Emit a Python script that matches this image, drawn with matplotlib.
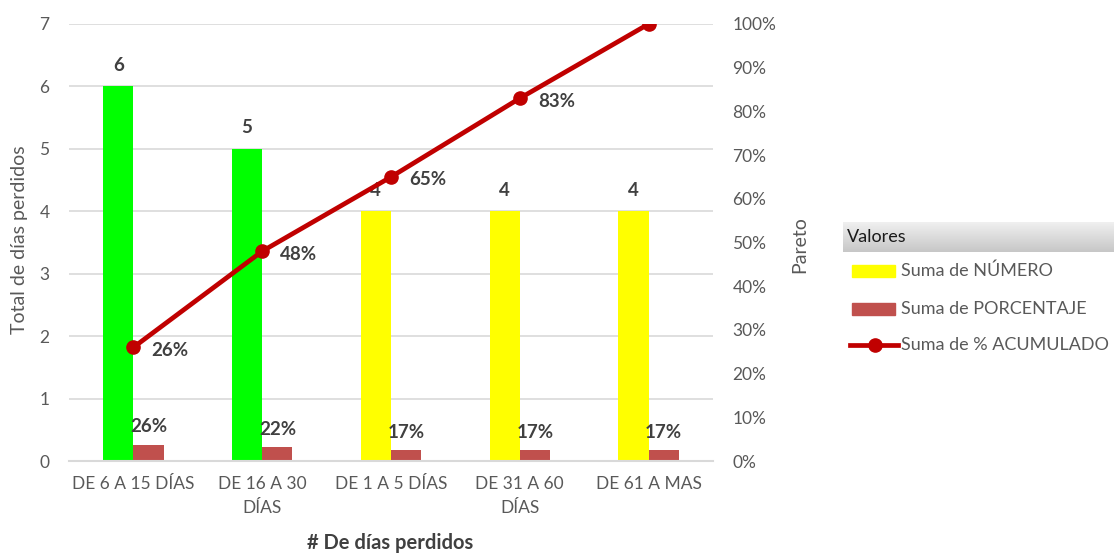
import numpy as np
import matplotlib.pyplot as plt

# Pareto data: days lost grouped by range
categorias = ["DE 6 A 15 DÍAS", "DE 16 A 30\nDÍAS", "DE 1 A 5 DÍAS", "DE 31 A 60\nDÍAS", "DE 61 A MAS"]
numero = [6, 5, 4, 4, 4]
porcentaje = [0.26, 0.22, 0.17, 0.17, 0.17]
acumulado = [0.26, 0.48, 0.65, 0.83, 1.00]
colores_numero = ["#00FF00", "#00FF00", "#FFFF00", "#FFFF00", "#FFFF00"]

plt.rcParams["font.family"] = ["Lato", "DejaVu Sans"]
gris = "#595959"
oscuro = "#404040"

W, H = 1114, 554
fig = plt.figure(figsize=(W / 100, H / 100), dpi=100)
ax = fig.add_axes([69 / W, (H - 461) / H, 644 / W, 437 / H])

x = np.arange(len(categorias))
ancho = 0.235

b1 = ax.bar(x - ancho / 2, numero, ancho, color=colores_numero, zorder=2)
b2 = ax.bar(x + ancho / 2, porcentaje, ancho, color="#C0504D", zorder=2)

ax.set_xlim(-0.5, len(categorias) - 0.5)
ax.set_ylim(0, 7)
ax.set_yticks(range(0, 8))
ax.yaxis.grid(True, color="#D9D9D9", lw=1.2, zorder=0)
ax.set_axisbelow(True)
for s in ["top", "right", "left"]:
    ax.spines[s].set_visible(False)
ax.spines["bottom"].set_color("#D9D9D9")
ax.spines["bottom"].set_linewidth(1.5)
ax.set_xticks(x)
ax.set_xticklabels(categorias, fontsize=12.5, color=gris, linespacing=1.6)
ax.tick_params(axis="x", length=0, pad=11)
ax.tick_params(axis="y", length=0, pad=14, labelsize=12.5, labelcolor=gris)

for xi, v in zip(x, numero):
    ax.annotate(str(v), (xi - ancho / 2, v), xytext=(0, 9), textcoords="offset points",
                ha="center", va="bottom", fontsize=13.5, fontweight="bold", color=oscuro)
for xi, v in zip(x, porcentaje):
    ax.annotate(f"{v:.0%}", (xi + ancho / 2, v), xytext=(0, 7), textcoords="offset points",
                ha="center", va="bottom", fontsize=13.5, fontweight="bold", color=oscuro)

# Cumulative percentage on secondary axis
ax2 = ax.twinx()
ax2.set_ylim(0, 1)
ax2.set_yticks(np.arange(0, 1.01, 0.1))
ax2.set_yticklabels([f"{int(round(t * 100))}%" for t in np.arange(0, 1.01, 0.1)])
ax2.tick_params(axis="y", length=0, pad=14, labelsize=12.5, labelcolor=gris)
for s in ax2.spines.values():
    s.set_visible(False)
ax2.plot(x, acumulado, color="#C00000", lw=3.4, marker="o", ms=9.5, zorder=3)
for xi, v in zip(x, acumulado[:-1]):
    ax2.annotate(f"{v:.0%}", (xi, v), xytext=(13, -2), textcoords="offset points",
                 ha="left", va="center", fontsize=13.5, fontweight="bold", color=oscuro)

fig.text(20 / W, 1 - 240 / H, "Total de días perdidos", rotation=90, ha="center", va="center",
         fontsize=14, color=gris)
fig.text(800 / W, 1 - 245 / H, "Pareto", rotation=90, ha="center", va="center",
         fontsize=14, color=gris)
fig.text(390 / W, 1 - 543 / H, "# De días perdidos", ha="center", va="center",
         fontsize=14.5, fontweight="bold", color=oscuro)

# Legend panel
header = fig.add_axes([843 / W, 1 - 252 / H, (W - 843) / W, 30 / H])
grad = np.linspace(0.94, 0.78, 50).reshape(-1, 1)
header.imshow(np.dstack([grad, grad, grad]), aspect="auto", extent=(0, 1, 0, 1))
header.axis("off")
header.text(0.015, 0.5, "Valores", ha="left", va="center", fontsize=13, color="#1a1a1a",
            transform=header.transAxes)

leg = fig.add_axes([843 / W, 1 - 370 / H, (W - 843) / W, 115 / H])
leg.set_xlim(843, W)
leg.set_ylim(370, 255)
leg.axis("off")
leg.add_patch(plt.Rectangle((852, 265), 43, 12, color="#FFFF00"))
leg.add_patch(plt.Rectangle((852, 303), 43, 12, color="#C0504D"))
leg.plot([850, 898], [345, 345], color="#C00000", lw=3.4)
leg.plot([875], [345], color="#C00000", marker="o", ms=9.5)
for yy, t in [(271, "Suma de NÚMERO"), (309, "Suma de PORCENTAJE"), (345, "Suma de % ACUMULADO")]:
    leg.text(901, yy, t, ha="left", va="center", fontsize=13, color=gris)

fig.savefig("out.png", dpi=100)
